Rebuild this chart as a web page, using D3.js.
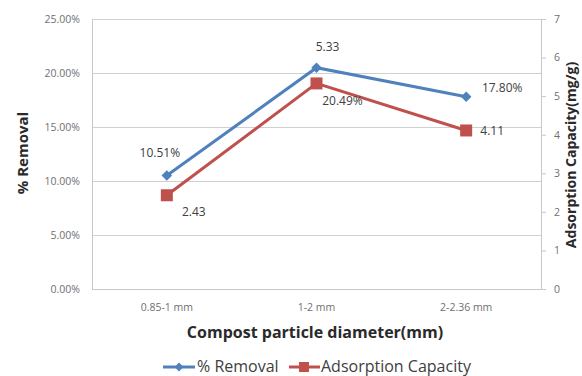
<!DOCTYPE html>
<html>
<head>
<meta charset="utf-8">
<script src="https://cdn.jsdelivr.net/npm/d3@7"></script>
<style>
	body { margin: 0; background: #fff; }
	text { font-family: "Open Sans", Lato, sans-serif; }
</style>
</head>
<body>
<div id="chart"></div>
<script>
// categories and values
var categories = ["0.85-1 mm", "1-2 mm", "2-2.36 mm"];
var removal = [10.51, 20.49, 17.80];      // % Removal (left axis)
var capacity = [2.43, 5.33, 4.11];        // Adsorption Capacity (right axis)
var leftTicks = [0, 5, 10, 15, 20, 25];
var rightTicks = [0, 1, 2, 3, 4, 5, 6, 7];

var width = 582, height = 376;
var m = { left: 92, right: 41, top: 19, bottom: 87 };
var blue = "#4F81BD", red = "#C0504D";

var svg = d3.select("#chart").append("svg")
	.attr("width", width)
	.attr("height", height);

var x = d3.scaleBand()
	.domain(categories)
	.range([m.left, width - m.right]);
var yL = d3.scaleLinear().domain([0, 25]).range([height - m.bottom, m.top]);
var yR = d3.scaleLinear().domain([0, 7]).range([height - m.bottom, m.top]);

// gridlines
svg.append("g")
	.attr("transform", "translate(" + m.left + ",0)")
	.call(d3.axisLeft(yL).tickValues(leftTicks).tickSize(-(width - m.left - m.right)).tickFormat(""))
	.call(function(g) {
		g.select(".domain").remove();
		g.selectAll("line").attr("stroke", "#d0d0d0");
	});

// left axis
svg.append("g")
	.attr("transform", "translate(" + m.left + ",0)")
	.call(d3.axisLeft(yL).tickValues(leftTicks).tickSize(0).tickPadding(12)
		.tickFormat(function(d) { return d.toFixed(2) + "%"; }))
	.call(function(g) {
		g.select(".domain").attr("stroke", "#c8c8c8");
		g.selectAll("text").attr("fill", "#707070").style("font-size", "10.5px");
	});

// right axis
svg.append("g")
	.attr("transform", "translate(" + (width - m.right) + ",0)")
	.call(d3.axisRight(yR).tickValues(rightTicks).tickSize(5).tickPadding(8).tickFormat(d3.format("d")))
	.call(function(g) {
		g.select(".domain").attr("stroke", "#c8c8c8");
		g.selectAll("line").attr("stroke", "#c8c8c8");
		g.selectAll("text").attr("fill", "#707070").style("font-size", "10.5px");
	});

// bottom axis
svg.append("g")
	.attr("transform", "translate(0," + (height - m.bottom) + ")")
	.call(d3.axisBottom(x).tickSize(0).tickPadding(15))
	.call(function(g) {
		g.select(".domain").attr("stroke", "#c8c8c8");
		g.selectAll("text").attr("fill", "#707070").style("font-size", "10.5px");
	});

// axis titles
svg.append("text")
	.attr("x", 315)
	.attr("y", 338)
	.attr("text-anchor", "middle")
	.style("font-size", "16px").style("font-weight", "bold")
	.attr("fill", "#2a2a2a")
	.text("Compost particle diameter(mm)");

svg.append("text")
	.attr("transform", "translate(28,153) rotate(-90)")
	.attr("text-anchor", "middle")
	.style("font-size", "15px").style("font-weight", "bold")
	.attr("fill", "#2a2a2a")
	.text("% Removal");

svg.append("text")
	.attr("transform", "translate(576,155) rotate(-90)")
	.attr("text-anchor", "middle")
	.style("font-size", "14px").style("font-weight", "bold")
	.attr("fill", "#2a2a2a")
	.text("Adsorption Capacity(mg/g)");

var cx = function(d, i) { return x(categories[i]) + x.bandwidth() / 2; };

// lines
svg.append("path")
	.datum(removal)
	.attr("fill", "none").attr("stroke", blue).attr("stroke-width", 3)
	.attr("d", d3.line().x(cx).y(function(d) { return yL(d); }));

svg.append("path")
	.datum(capacity)
	.attr("fill", "none").attr("stroke", red).attr("stroke-width", 3)
	.attr("d", d3.line().x(cx).y(function(d) { return yR(d); }));

// markers
svg.selectAll(".diamond")
	.data(removal).enter()
	.append("path")
	.attr("class", "diamond")
	.attr("d", d3.symbol().type(d3.symbolDiamond2).size(70))
	.attr("fill", blue)
	.attr("transform", function(d, i) { return "translate(" + cx(d, i) + "," + yL(d) + ")"; });

svg.selectAll(".square")
	.data(capacity).enter()
	.append("rect")
	.attr("class", "square")
	.attr("x", function(d, i) { return cx(d, i) - 6; })
	.attr("y", function(d) { return yR(d) - 6; })
	.attr("width", 12).attr("height", 12)
	.attr("fill", red);

// data labels (placement roughly as in the picture)
var removalOff = [[-7, -18], [26, 37], [36, -5]];
var capacityOff = [[27, 21], [11, -32], [26, 5]];

svg.selectAll(".lblR")
	.data(removal).enter()
	.append("text")
	.attr("x", function(d, i) { return cx(d, i) + removalOff[i][0]; })
	.attr("y", function(d, i) { return yL(d) + removalOff[i][1]; })
	.attr("text-anchor", "middle")
	.style("font-size", "12px").attr("fill", "#404040")
	.text(function(d) { return d.toFixed(2) + "%"; });

svg.selectAll(".lblC")
	.data(capacity).enter()
	.append("text")
	.attr("x", function(d, i) { return cx(d, i) + capacityOff[i][0]; })
	.attr("y", function(d, i) { return yR(d) + capacityOff[i][1]; })
	.attr("text-anchor", "middle")
	.style("font-size", "12px").attr("fill", "#404040")
	.text(function(d) { return d.toFixed(2); });

// legend
var leg = svg.append("g").attr("transform", "translate(163,367)");
leg.append("line").attr("x1", 0).attr("x2", 32).attr("stroke", blue).attr("stroke-width", 3);
leg.append("path").attr("d", d3.symbol().type(d3.symbolDiamond2).size(50)).attr("transform", "translate(16,0)").attr("fill", blue);
leg.append("text").attr("x", 34).attr("y", 5).style("font-size", "16px").attr("fill", "#404040").text("% Removal");
leg.append("line").attr("x1", 126).attr("x2", 157).attr("stroke", red).attr("stroke-width", 3);
leg.append("rect").attr("x", 136).attr("y", -5).attr("width", 10).attr("height", 10).attr("fill", red);
leg.append("text").attr("x", 158).attr("y", 5).style("font-size", "16px").attr("fill", "#404040").text("Adsorption Capacity");
</script>
</body>
</html>
